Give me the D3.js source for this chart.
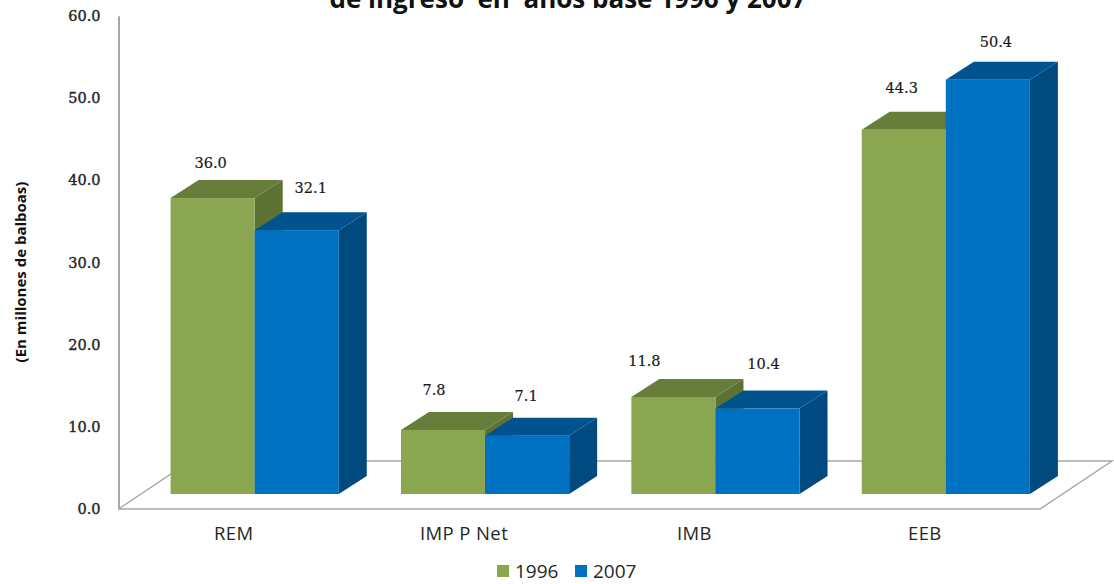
<!DOCTYPE html>
<html>
<head>
<meta charset="utf-8">
<script src="https://cdn.jsdelivr.net/npm/d3@7"></script>
<style>
    html, body { margin: 0; padding: 0; background: #fff; overflow: hidden; }
</style>
</head>
<body>
<div id="chart"></div>
<script>
const categories = ["REM", "IMP P Net", "IMB", "EEB"];
const years = ["1996", "2007"];
const values1996 = [36.0, 7.8, 11.8, 44.3];
const values2007 = [32.1, 7.1, 10.4, 50.4];
const yTicks = [0, 10, 20, 30, 40, 50, 60];

// the labels were moved by hand in the original, so they do not sit on a fixed spot
const labelNudge1996 = [[-2, -35], [-9, -40], [-29, -36], [-2, -42]];
const labelNudge2007 = [[14, -42], [-1, -40], [6, -45], [8, -38]];

const width = 1114,
    height = 584;

const svg = d3.select("#chart")
    .append("svg")
    .attr("width", width)
    .attr("height", height)
    .style("display", "block");

const floor = { left: 118.5, right: 1040, y: 509, dx: 72, dy: 48 };
const bar = { dx: 28, dy: 18, shiftX: 21, shiftY: 15 };

const x = d3.scaleBand()
    .domain(categories)
    .range([floor.left, floor.right])
    .paddingInner(0.27)
    .paddingOuter(0.135);

const x1 = d3.scaleBand()
    .domain(years)
    .range([0, x.bandwidth()]);

const y = d3.scaleLinear()
    .domain([0, 60])
    .range([floor.y, floor.y - 60 * 8.22]);

const colors = {
    "1996": { front: "#8aa650", top: "#677d3a", side: "#5d7134" },
    "2007": { front: "#0070c0", top: "#00538f", side: "#004a80" }
};

// floor of the 3d box
svg.append("path")
    .attr("d", d3.line()([
        [floor.left, floor.y],
        [floor.right, floor.y],
        [floor.right + floor.dx, floor.y - floor.dy],
        [floor.left + floor.dx, floor.y - floor.dy],
        [floor.left, floor.y]
    ]))
    .attr("fill", "none")
    .attr("stroke", "#a6a6a6")
    .attr("stroke-width", 1.5);

const axis = svg.append("g")
    .attr("transform", `translate(${floor.left}, 0)`)
    .call(d3.axisLeft(y).tickValues(yTicks).tickSize(0).tickPadding(18).tickFormat(d3.format(".1f")));

axis.select(".domain")
    .attr("stroke", "#a6a6a6")
    .attr("stroke-width", 2);

axis.selectAll("text")
    .attr("dy", "0.32em")
    .style("font-family", "'DejaVu Serif', serif")
    .style("font-size", "14.5px")
    .style("fill", "#262626")
    .style("stroke", "#262626")
    .style("stroke-width", 0.4);

const xAxis = svg.append("g")
    .attr("transform", `translate(0, ${floor.y})`)
    .call(d3.axisBottom(x).tickSize(0).tickPadding(18));

xAxis.select(".domain").remove();

xAxis.selectAll("text")
    .style("font-family", "'Open Sans', sans-serif")
    .style("font-size", "18.5px")
    .style("letter-spacing", "0.4px")
    .style("fill", "#262626");

const series = [
    { year: "1996", values: values1996, nudge: labelNudge1996 },
    { year: "2007", values: values2007, nudge: labelNudge2007 }
];

series.forEach(s => {
    const g = svg.append("g");
    const color = colors[s.year];
    const rows = categories.map((c, i) => {
        const x0 = x(c) + x1(s.year) + bar.shiftX;
        const y0 = y(s.values[i]) - bar.shiftY;
        return { x0, x1: x0 + x1.bandwidth(), y0, y1: floor.y - bar.shiftY };
    });

    g.selectAll(".side")
        .data(rows)
        .enter()
        .append("path")
        .attr("d", d => d3.line()([
            [d.x1, d.y0],
            [d.x1 + bar.dx, d.y0 - bar.dy],
            [d.x1 + bar.dx, d.y1 - bar.dy],
            [d.x1, d.y1]
        ]) + "Z")
        .attr("fill", color.side);

    g.selectAll(".top")
        .data(rows)
        .enter()
        .append("path")
        .attr("d", d => d3.line()([
            [d.x0, d.y0],
            [d.x0 + bar.dx, d.y0 - bar.dy],
            [d.x1 + bar.dx, d.y0 - bar.dy],
            [d.x1, d.y0]
        ]) + "Z")
        .attr("fill", color.top);

    g.selectAll(".front")
        .data(rows)
        .enter()
        .append("rect")
        .attr("x", d => d.x0)
        .attr("y", d => d.y0)
        .attr("width", d => d.x1 - d.x0)
        .attr("height", d => d.y1 - d.y0)
        .attr("fill", color.front);

    s.rows = rows;
});

// labels last, nothing should cover them
series.forEach(s => {
    svg.append("g")
        .selectAll("text")
        .data(s.rows)
        .enter()
        .append("text")
        .attr("x", (d, i) => (d.x0 + d.x1) / 2 + s.nudge[i][0])
        .attr("y", (d, i) => d.y0 + s.nudge[i][1])
        .attr("dy", "0.35em")
        .attr("text-anchor", "middle")
        .style("font-family", "'DejaVu Serif', serif")
        .style("font-size", "14.5px")
        .style("fill", "#1a1a1a")
        .style("stroke", "#1a1a1a")
        .style("stroke-width", 0.2)
        .text((d, i) => d3.format(".1f")(s.values[i]));
});

// the reference crops this line at the top edge as well
svg.append("text")
    .attr("x", 568)
    .attr("y", 8)
    .attr("text-anchor", "middle")
    .attr("xml:space", "preserve")
    .style("white-space", "pre")
    .style("font-family", "'Open Sans', sans-serif")
    .style("font-size", "26px")
    .style("font-weight", "bold")
    .style("fill", "#111")
    .text("de ingreso  en  años base 1996 y 2007");

svg.append("text")
    .attr("transform", "translate(26, 272) rotate(-90)")
    .attr("text-anchor", "middle")
    .style("font-family", "'Open Sans', sans-serif")
    .style("font-size", "15px")
    .style("font-weight", "bold")
    .style("fill", "#111")
    .text("(En millones de balboas)");

const legendX = d3.scalePoint()
    .domain(years)
    .range([497, 575]);

const legend = svg.append("g")
    .selectAll("g")
    .data(years)
    .enter()
    .append("g")
    .attr("transform", d => `translate(${legendX(d)}, 571)`);

legend.append("rect")
    .attr("y", -6)
    .attr("width", 12)
    .attr("height", 12)
    .attr("fill", d => colors[d].front);

legend.append("text")
    .attr("x", 18)
    .attr("dy", "0.36em")
    .style("font-family", "'Open Sans', sans-serif")
    .style("font-size", "19px")
    .style("fill", "#262626")
    .text(d => d);
</script>
</body>
</html>
